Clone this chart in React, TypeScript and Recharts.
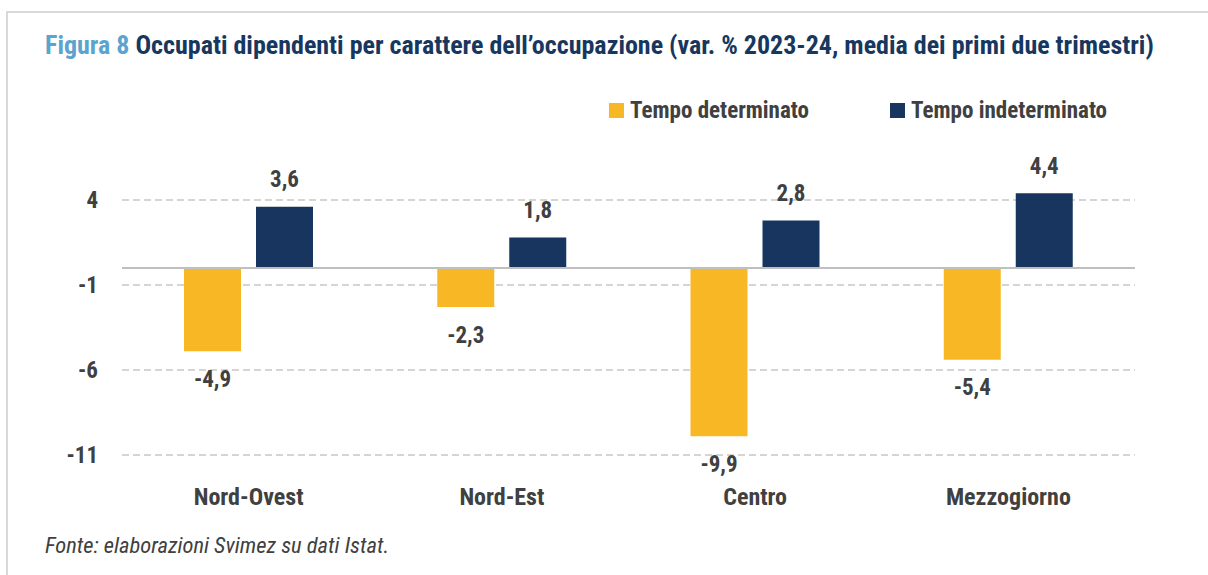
import { BarChart, Bar, XAxis, YAxis, CartesianGrid, ReferenceLine, LabelList } from "recharts";

const regions = ["Nord-Ovest", "Nord-Est", "Centro", "Mezzogiorno"];
const tempoDeterminato = [-4.9, -2.3, -9.9, -5.4];
const tempoIndeterminato = [3.6, 1.8, 2.8, 4.4];
const yTicks = [-11, -6, -1, 4];

const data = regions.map((region, i) => ({
  region,
  det: tempoDeterminato[i],
  indet: tempoIndeterminato[i],
}));

const FONT = '"Roboto Condensed", Roboto, sans-serif';
const YELLOW = "#F8B826";
const NAVY = "#17355E";
const GREY_TEXT = "#404040";

const fmt = (v: number) => v.toFixed(1).replace(".", ",");

const ValueLabel = (props: any) => {
  const vb = props.viewBox ?? props;
  const { x, y, width, height } = vb;
  const value = Number(props.value);
  const top = Math.min(y, y + height);
  const bottom = Math.max(y, y + height);
  const cy = value >= 0 ? top - 27 : bottom + 28;
  return (
    <text
      x={x + width / 2}
      y={cy}
      textAnchor="middle"
      dominantBaseline="central"
      fontFamily={FONT}
      fontWeight="bold"
      fontSize={23}
      fill={GREY_TEXT}
    >
      {fmt(value)}
    </text>
  );
};

const legendItems = [
  { label: "Tempo determinato", color: YELLOW, left: 609 },
  { label: "Tempo indeterminato", color: NAVY, left: 890 },
];

export default function App() {
  return (
    <div style={{ position: "absolute", left: 0, top: 0, width: 1208, height: 575, background: "#fff", overflow: "hidden" }}>
      <div
        style={{
          position: "absolute",
          left: 6,
          top: 11,
          width: 1300,
          height: 700,
          borderTop: "2px solid #D9D9D9",
          borderLeft: "2px solid #D9D9D9",
        }}
      />
      <div
        style={{
          position: "absolute",
          left: 45,
          top: 28,
          fontFamily: FONT,
          fontWeight: "bold",
          fontSize: 26,
          lineHeight: "34px",
          whiteSpace: "nowrap",
          color: "#17375E",
        }}
      >
        <span style={{ color: "#5BA4CF" }}>Figura 8</span> Occupati dipendenti per carattere dell’occupazione (var. % 2023-24, media dei primi due trimestri)
      </div>
      {legendItems.map((item) => (
        <div
          key={item.label}
          style={{
            position: "absolute",
            left: item.left,
            top: 94,
            height: 32,
            display: "flex",
            alignItems: "center",
            fontFamily: FONT,
            fontWeight: "bold",
            fontSize: 23,
            color: GREY_TEXT,
            whiteSpace: "nowrap",
          }}
        >
          <span style={{ width: 15, height: 15, background: item.color, display: "inline-block", marginRight: 6 }} />
          <span>{item.label}</span>
        </div>
      ))}
      <div style={{ position: "absolute", left: 0, top: 0 }}>
        <BarChart
          width={1208}
          height={575}
          data={data}
          margin={{ top: 115, right: 73, bottom: 80, left: 62 }}
          barSize={57}
          barGap={15}
        >
          <CartesianGrid
            vertical={false}
            stroke="#C8C8C8"
            strokeWidth={1.5}
            strokeDasharray="7 4"
            syncWithTicks
          />
          <XAxis
            dataKey="region"
            axisLine={false}
            tickLine={false}
            tickSize={0}
            tickMargin={33}
            height={40}
            interval={0}
            tick={{ fontFamily: FONT, fontWeight: "bold", fontSize: 24, fill: GREY_TEXT }}
          />
          <YAxis
            type="number"
            domain={[-11, 9]}
            ticks={yTicks}
            axisLine={false}
            tickLine={false}
            tickSize={0}
            tickMargin={24}
            width={60}
            tick={{ fontFamily: FONT, fontWeight: "bold", fontSize: 23, fill: GREY_TEXT }}
          />
          <ReferenceLine y={0} stroke="#BFBFBF" strokeWidth={2} />
          <Bar dataKey="det" name="Tempo determinato" fill={YELLOW} isAnimationActive={false}>
            <LabelList dataKey="det" content={<ValueLabel />} />
          </Bar>
          <Bar dataKey="indet" name="Tempo indeterminato" fill={NAVY} isAnimationActive={false}>
            <LabelList dataKey="indet" content={<ValueLabel />} />
          </Bar>
        </BarChart>
      </div>
      <div
        style={{
          position: "absolute",
          left: 45,
          top: 531,
          fontFamily: FONT,
          fontStyle: "italic",
          fontSize: 22.5,
          lineHeight: "28px",
          color: GREY_TEXT,
        }}
      >
        Fonte: elaborazioni Svimez su dati Istat.
      </div>
    </div>
  );
}
